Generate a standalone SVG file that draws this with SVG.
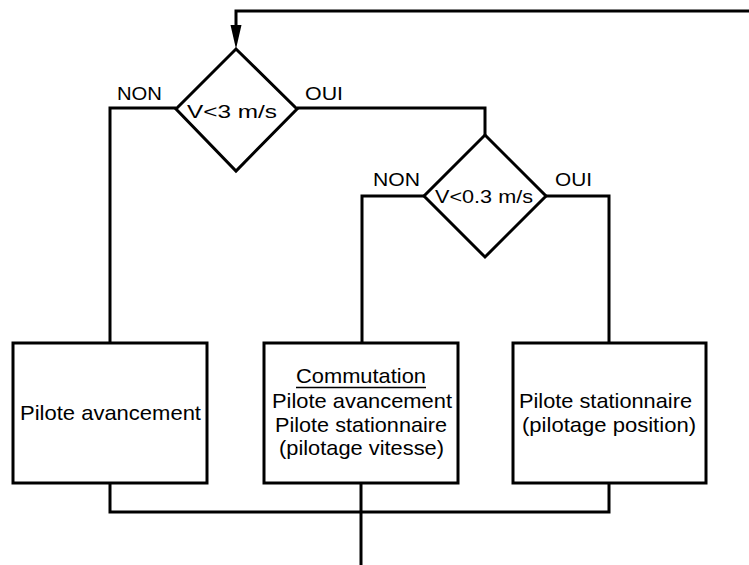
<svg xmlns="http://www.w3.org/2000/svg" width="749" height="565" viewBox="0 0 749 565">
  <defs>
    <path id="arrowhead" d="M-5.5,0 L5.5,0 L0,24 Z" fill="#000"/>
  </defs>
  <style>
    .shape { fill: #fff; stroke: #000; stroke-width: 3; stroke-linejoin: miter; }
    .wire { fill: none; stroke: #000; stroke-width: 3; stroke-linejoin: miter; }
    text { font-family: "Liberation Sans", Arial, sans-serif; font-size: 18.5px; fill: #000; }
    .box { font-size: 21px; }
  </style>
  <rect width="749" height="565" fill="#fff"/>

  <!-- connectors -->
  <g id="connectors">
    <path class="wire" d="M749,11 L236,11 L236,30"/>
    <use href="#arrowhead" x="236" y="25"/>
    <path class="wire" d="M176,108 L110,108 L110,343"/>
    <path class="wire" d="M297,108 L485,108 L485,135"/>
    <path class="wire" d="M424,196 L362,196 L362,343"/>
    <path class="wire" d="M546,196 L609,196 L609,343"/>
    <path class="wire" d="M110,483 L110,512 L609,512 L609,483" stroke-width="2.5"/>
    <path class="wire" d="M361,483 L361,565"/>
    <text x="117" y="100" textLength="45" lengthAdjust="spacingAndGlyphs">NON</text>
    <text x="305" y="100" textLength="38" lengthAdjust="spacingAndGlyphs">OUI</text>
    <text x="373" y="186" textLength="47" lengthAdjust="spacingAndGlyphs">NON</text>
    <text x="555" y="186" textLength="37" lengthAdjust="spacingAndGlyphs">OUI</text>
  </g>

  <!-- decision: V < 3 m/s -->
  <g id="decision-v3">
    <polygon class="shape" points="236,49 297,109 236,171 176,109"/>
    <text x="187" y="118" textLength="90" lengthAdjust="spacingAndGlyphs">V&lt;3 m/s</text>
  </g>

  <!-- decision: V < 0.3 m/s -->
  <g id="decision-v03">
    <polygon class="shape" points="485,135 546,196 485,257 424,196"/>
    <text x="435" y="203" textLength="98" lengthAdjust="spacingAndGlyphs">V&lt;0.3 m/s</text>
  </g>

  <!-- block: forward pilot -->
  <g id="box-avancement">
    <rect class="shape" x="13" y="343" width="194" height="140"/>
    <text class="box" x="20" y="420" textLength="181" lengthAdjust="spacingAndGlyphs">Pilote avancement</text>
  </g>

  <!-- block: switching -->
  <g id="box-commutation">
    <rect class="shape" x="264" y="343" width="194" height="140"/>
    <text class="box" x="296" y="383" textLength="130" lengthAdjust="spacingAndGlyphs">Commutation</text>
    <line x1="296" y1="387.5" x2="426" y2="387.5" stroke="#000" stroke-width="1.5"/>
    <text class="box" x="272" y="408" textLength="180" lengthAdjust="spacingAndGlyphs">Pilote avancement</text>
    <text class="box" x="275" y="432" textLength="172" lengthAdjust="spacingAndGlyphs">Pilote stationnaire</text>
    <text class="box" x="279" y="455" textLength="165" lengthAdjust="spacingAndGlyphs">(pilotage vitesse)</text>
  </g>

  <!-- block: station-keeping pilot -->
  <g id="box-stationnaire">
    <rect class="shape" x="513" y="343" width="193" height="140"/>
    <text class="box" x="519" y="408" textLength="173" lengthAdjust="spacingAndGlyphs">Pilote stationnaire</text>
    <text class="box" x="522" y="432" textLength="174" lengthAdjust="spacingAndGlyphs">(pilotage position)</text>
  </g>
</svg>
